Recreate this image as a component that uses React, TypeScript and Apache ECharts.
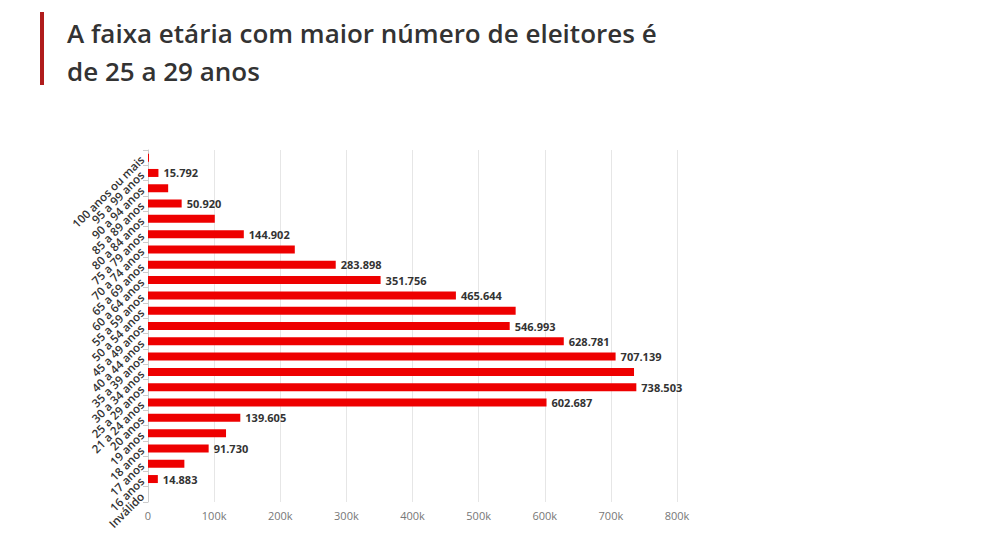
import React, { useEffect, useRef } from "react";
import * as echarts from "echarts";

const categories = ["100 anos ou mais","95 a 99 anos","90 a 94 anos","85 a 89 anos","80 a 84 anos","75 a 79 anos","70 a 74 anos","65 a 69 anos","60 a 64 anos","55 a 59 anos","50 a 54 anos","45 a 49 anos","40 a 44 anos","35 a 39 anos","30 a 34 anos","25 a 29 anos","21 a 24 anos","20 anos","19 anos","18 anos","17 anos","16 anos","Inválido"];
const values = [1500,15792,30500,50920,101000,144902,222000,283898,351756,465644,556000,546993,628781,707139,735000,738503,602687,139605,118000,91730,55000,14883,0];
const showLabel = [false,true,false,true,false,true,false,true,true,true,false,true,true,true,false,true,true,true,false,true,false,true,false];

const fmt = (v: number) => String(v).replace(/\B(?=(\d{3})+(?!\d))/g, ".");

export default function App() {
  const ref = useRef<HTMLDivElement>(null);
  useEffect(() => {
    const chart = echarts.init(ref.current!, null, { renderer: "svg" });
    chart.setOption({
      animation: false,
      textStyle: { fontFamily: "Open Sans" },
      graphic: [
        { type: "rect", left: 32, top: 4, shape: { width: 4, height: 73 }, style: { fill: "#b01c1c" } },
        { type: "text", left: 59, top: 6, style: { text: "A faixa etária com maior número de eleitores é\nde 25 a 29 anos", fontSize: 26, fontWeight: 600, lineHeight: 38, fill: "#333", fontFamily: "Open Sans" } },
      ],
      grid: { left: 140, right: 303, top: 142, bottom: 44 },
      xAxis: {
        type: "value", min: 0, max: 800000, interval: 100000,
        axisLabel: { color: "#777", fontSize: 11, formatter: (v: number) => (v === 0 ? "0" : v / 1000 + "k") },
        splitLine: { lineStyle: { color: "#e6e6e6" } },
      },
      yAxis: {
        type: "category", inverse: true, data: categories,
        axisLine: { lineStyle: { color: "#ccc" } },
        axisTick: { show: true, lineStyle: { color: "#ccc" } },
        axisLabel: { rotate: 45, interval: 0, color: "#333", fontSize: 11.5, fontWeight: 600, margin: 6 },
      },
      series: [{
        type: "bar", barWidth: 8,
        itemStyle: { color: "#ee0000" },
        data: values.map((v, i) => ({
          value: v,
          label: { show: showLabel[i], position: "right", formatter: () => fmt(v), color: "#333", fontSize: 11, fontWeight: "bold" },
        })),
      }],
    });
    return () => chart.dispose();
  }, []);
  return <div ref={ref} style={{ width: 972, height: 538 }} />;
}
